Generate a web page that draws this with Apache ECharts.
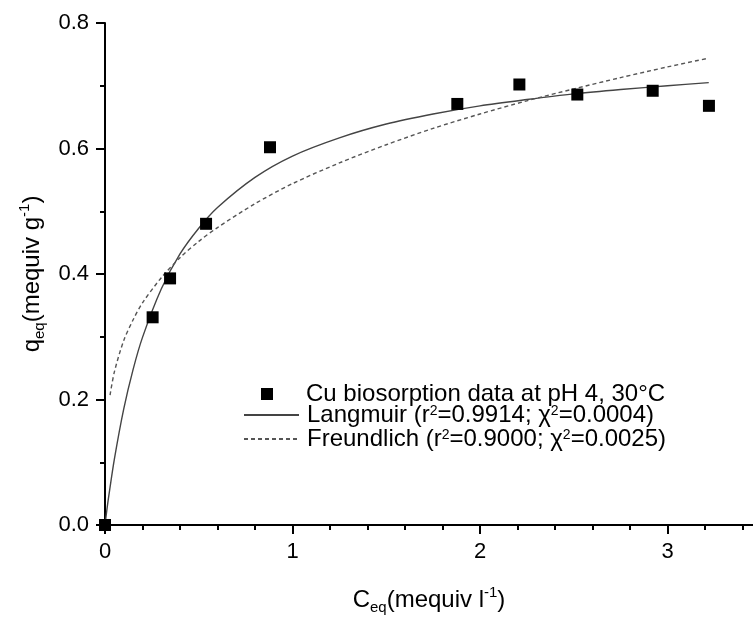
<!DOCTYPE html>
<html>
<head>
<meta charset="utf-8">
<script src="https://cdn.jsdelivr.net/npm/echarts@6/dist/echarts.min.js"></script>
<style>html,body{margin:0;padding:0;background:#fff}#c{width:753px;height:617px}</style>
</head>
<body>
<div id="c"></div>
<script>
// Experimental data
var dataC = [0, 0.254, 0.347, 0.539, 0.88, 1.879, 2.21, 2.519, 2.921, 3.221];
var dataQ = [0, 0.331, 0.393, 0.480, 0.602, 0.671, 0.702, 0.686, 0.692, 0.668];
// Langmuir fitted curve
var langC = [0, 0.01, 0.02, 0.05, 0.1, 0.15, 0.2, 0.3, 0.4, 0.5, 0.6, 0.8, 1.0, 1.25, 1.5, 1.75, 2.0, 2.25, 2.5, 2.75, 3.0, 3.22];
var langQ = [0, 0.024, 0.046, 0.105, 0.185, 0.248, 0.299, 0.376, 0.432, 0.473, 0.506, 0.554, 0.588, 0.617, 0.639, 0.655, 0.668, 0.678, 0.687, 0.694, 0.700, 0.705];
// Freundlich fitted curve
var freC = [0.027, 0.05, 0.1, 0.15, 0.2, 0.3, 0.4, 0.5, 0.6, 0.8, 1.0, 1.25, 1.5, 1.75, 2.0, 2.25, 2.5, 2.75, 3.0, 3.22];
var freQ = [0.207, 0.244, 0.294, 0.327, 0.354, 0.394, 0.426, 0.452, 0.474, 0.512, 0.544, 0.577, 0.606, 0.632, 0.655, 0.676, 0.695, 0.713, 0.730, 0.744];
// Ticks
var xMajorTicks = [0, 1, 2, 3];
var xMinorTicks = [0.2, 0.4, 0.6, 0.8, 1.2, 1.4, 1.6, 1.8, 2.2, 2.4, 2.6, 2.8, 3.2, 3.4];
var xMax = 3.456;
var yTicks = [0, 0.2, 0.4, 0.6, 0.8];

function pairs(a, b) { return a.map(function (v, i) { return [v, b[i]]; }); }

var FONT = 'Liberation Sans, Arial, sans-serif';
var chart = echarts.init(document.getElementById('c'));
var legendText = {
  cu: '{n|Cu biosorption data at pH 4, 30°C}',
  lang: '{n|Langmuir (r}{sup|2}{n|=0.9914; χ}{sup|2}{n|=0.0004)}',
  freund: '{n|Freundlich (r}{sup|2}{n|=0.9000; χ}{sup|2}{n|=0.0025)}'
};
var legendRich = {
  n: { fontFamily: FONT, fontSize: 24, color: '#000', lineHeight: 22, verticalAlign: 'middle' },
  sup: { fontFamily: FONT, fontSize: 14, color: '#000', lineHeight: 14, verticalAlign: 'top' }
};
var nameRich = {
  n: { fontFamily: FONT, fontSize: 24, color: '#000', lineHeight: 30, verticalAlign: 'middle' },
  sub: { fontFamily: FONT, fontSize: 15, color: '#000', lineHeight: 14, verticalAlign: 'bottom' },
  sup: { fontFamily: FONT, fontSize: 15, color: '#000', lineHeight: 14, verticalAlign: 'top' }
};
chart.setOption({
  animation: false,
  backgroundColor: '#fff',
  grid: { left: 105, top: 23, right: 0, bottom: 92, containLabel: false, outerBoundsMode: 'none' },
  xAxis: [{
    type: 'value', min: 0, max: xMax,
    name: '{n|C}{sub|eq}{n|(mequiv l}{sup|-1}{n|)}',
    nameLocation: 'middle', nameGap: 60,
    nameTextStyle: { rich: nameRich },
    axisLine: { show: true, lineStyle: { color: '#000', width: 2 } },
    axisTick: { show: true, length: 9, customValues: xMajorTicks, lineStyle: { color: '#000', width: 2 } },
    axisLabel: { customValues: xMajorTicks, fontFamily: FONT, fontSize: 22, color: '#000', margin: 16 },
    splitLine: { show: false }
  }, {
    type: 'value', min: 0, max: xMax, position: 'bottom',
    axisLine: { show: false },
    axisTick: { show: true, length: 5, customValues: xMinorTicks, lineStyle: { color: '#000', width: 2 } },
    axisLabel: { show: false },
    splitLine: { show: false }
  }],
  yAxis: {
    type: 'value', min: 0, max: 0.8, interval: 0.2,
    name: '{n|q}{sub|eq}{n|(mequiv g}{sup|-1}{n|)}',
    nameLocation: 'middle', nameGap: 58,
    nameTextStyle: { rich: nameRich },
    axisLine: { show: true, lineStyle: { color: '#000', width: 2 } },
    axisTick: { show: true, length: 9, lineStyle: { color: '#000', width: 2 } },
    minorTick: { show: true, splitNumber: 2, length: 5, lineStyle: { color: '#000', width: 2 } },
    axisLabel: { fontFamily: FONT, fontSize: 22, color: '#000', margin: 16, formatter: function (v) { return v.toFixed(1); } },
    splitLine: { show: false }
  },
  legend: [{
    orient: 'vertical', left: 261, top: 382, padding: 0,
    itemWidth: 12, itemHeight: 12, itemGap: 0,
    data: [{ name: 'cu', icon: 'rect' }],
    formatter: function (name) { return legendText[name]; },
    textStyle: { padding: [0, 0, 0, 28], rich: legendRich }
  }, {
    orient: 'vertical', left: 243, top: 403, padding: 0,
    itemWidth: 55, itemHeight: 12, itemGap: 0,
    data: [{ name: 'lang' }, { name: 'freund' }],
    formatter: function (name) { return legendText[name]; },
    textStyle: { padding: [0, 0, 0, 3], rich: legendRich }
  }],
  series: [{
    name: 'lang', type: 'line', xAxisIndex: 0, smooth: 0.3, symbol: 'none',
    itemStyle: { color: 'rgba(0,0,0,0)', borderWidth: 0 },
    lineStyle: { color: '#444', width: 1.4 },
    data: pairs(langC, langQ), z: 2
  }, {
    name: 'freund', type: 'line', xAxisIndex: 0, smooth: 0.3, symbol: 'none',
    itemStyle: { color: 'rgba(0,0,0,0)', borderWidth: 0 },
    lineStyle: { color: '#555', width: 1.4, type: [4, 3] },
    data: pairs(freC, freQ), z: 2
  }, {
    name: 'cu', type: 'scatter', xAxisIndex: 0, symbol: 'rect', symbolSize: 12,
    itemStyle: { color: '#000', opacity: 1 }, clip: true,
    data: pairs(dataC, dataQ), z: 3
  }]
});
</script>
</body>
</html>
